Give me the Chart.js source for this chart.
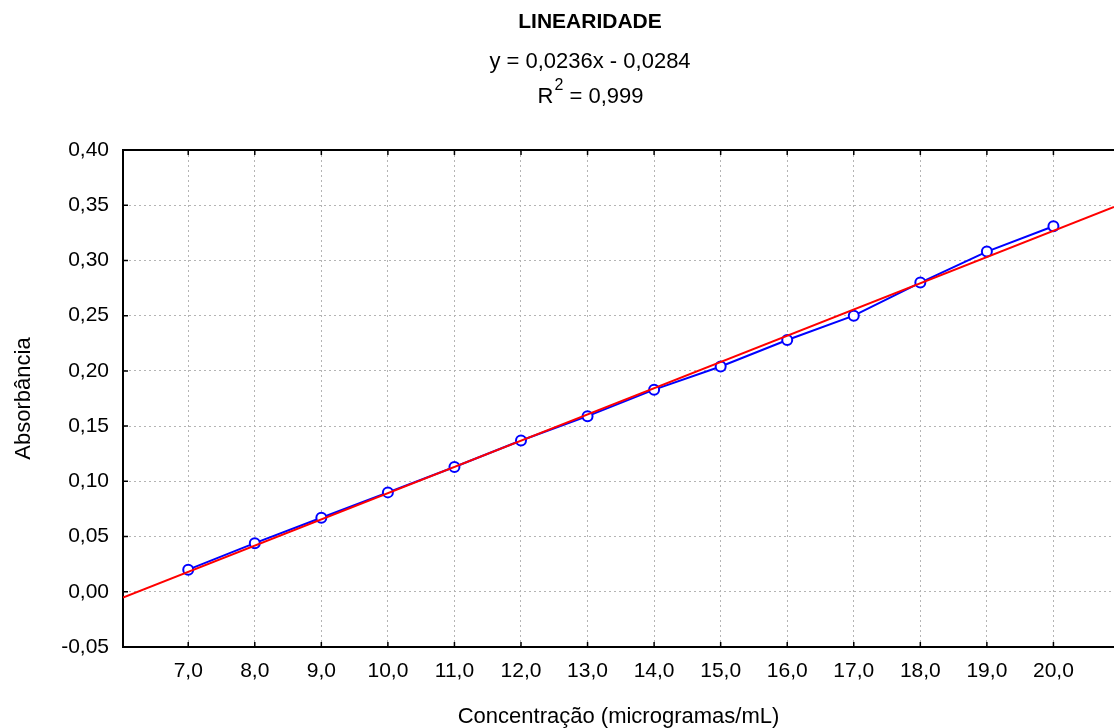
<!DOCTYPE html>
<html>
<head>
<meta charset="utf-8">
<script src="https://cdn.jsdelivr.net/npm/chart.js@4/dist/chart.umd.min.js"></script>
<style>
    html, body { margin: 0; padding: 0; background: #fff; overflow: hidden; }
    #wrap { width: 1114px; height: 728px; }
    canvas { display: block; }
</style>
</head>
<body>
<div id="wrap"><canvas id="grafico" width="1114" height="728"></canvas></div>
<script>
// dados
const concentracoes = [7, 8, 9, 10, 11, 12, 13, 14, 15, 16, 17, 18, 19, 20];
const absorbancias = [0.020, 0.044, 0.067, 0.090, 0.113, 0.137, 0.159, 0.183, 0.204, 0.228, 0.250, 0.280, 0.308, 0.331];
const ticksX = [7, 8, 9, 10, 11, 12, 13, 14, 15, 16, 17, 18, 19, 20];
const limitesX = [6.02, 20.91];
const limitesY = [-0.05, 0.40];
// reta de ajuste desenhada no grafico (inclinacao, intercepto)
const ajuste = [0.02376, -0.1483];

const titulo = "LINEARIDADE";
const equacao = "y = 0,0236x - 0,0284";
const r2Valor = " = 0,999";

const fonte = '"Liberation Sans", Arial, sans-serif';
const virgula = (v, d) => v.toFixed(d).replace(".", ",");

const retaAjuste = limitesX.map(x => ({ x: x, y: ajuste[0] * x + ajuste[1] }));
const pontos = concentracoes.map((x, i) => ({ x: x, y: absorbancias[i] }));

// titulo, eixo superior e marcas internas
const extras = {
    id: "extras",
    afterDraw(chart) {
        const ctx = chart.ctx;
        const area = chart.chartArea;
        const sx = chart.scales.x;
        const sy = chart.scales.y;
        const cx = 590;

        ctx.save();
        ctx.fillStyle = "#000";
        ctx.textAlign = "center";
        ctx.textBaseline = "alphabetic";
        ctx.font = "bold 21px " + fonte;
        ctx.fillText(titulo, cx, 28);
        ctx.font = "22px " + fonte;
        ctx.fillText(equacao, cx, 68);

        // R² com expoente
        ctx.textAlign = "left";
        ctx.font = "22px " + fonte;
        const wR = ctx.measureText("R").width;
        const wV = ctx.measureText(r2Valor).width;
        ctx.font = "16px " + fonte;
        const w2 = ctx.measureText("2").width;
        const x0 = cx - (wR + w2 + wV) / 2;
        ctx.font = "22px " + fonte;
        ctx.fillText("R", x0, 103);
        ctx.font = "16px " + fonte;
        ctx.fillText("2", x0 + wR + 1, 90);
        ctx.font = "22px " + fonte;
        ctx.fillText(r2Valor, x0 + wR + w2 + 1, 103);

        // linha superior
        ctx.strokeStyle = "#000";
        ctx.lineWidth = 2;
        ctx.beginPath();
        ctx.moveTo(area.left, area.top);
        ctx.lineTo(area.right, area.top);
        ctx.stroke();

        // marcas internas
        ctx.lineWidth = 1.5;
        ctx.beginPath();
        ticksX.forEach(v => {
            const px = sx.getPixelForValue(v);
            ctx.moveTo(px, area.bottom);
            ctx.lineTo(px, area.bottom - 5);
            ctx.moveTo(px, area.top);
            ctx.lineTo(px, area.top + 5);
        });
        sy.ticks.forEach(t => {
            const py = sy.getPixelForValue(t.value);
            ctx.moveTo(area.left, py);
            ctx.lineTo(area.left + 5, py);
        });
        ctx.stroke();
        ctx.restore();
    }
};

new Chart(document.getElementById("grafico"), {
    type: "scatter",
    data: {
        datasets: [
            {
                label: "Ajuste",
                data: retaAjuste,
                showLine: true,
                borderColor: "#ff0000",
                borderWidth: 2,
                pointRadius: 0,
                order: 0
            },
            {
                label: "Absorbância",
                data: pontos,
                showLine: true,
                borderColor: "#0000ff",
                borderWidth: 2,
                pointRadius: 5,
                pointBorderWidth: 2,
                pointBackgroundColor: "#ffffff",
                pointBorderColor: "#0000ff",
                order: 1
            }
        ]
    },
    options: {
        responsive: false,
        animation: false,
        layout: { autoPadding: false, padding: { top: 150, right: 0, left: 0, bottom: 0 } },
        plugins: {
            legend: { display: false },
            tooltip: { enabled: false }
        },
        scales: {
            x: {
                type: "linear",
                min: limitesX[0],
                max: limitesX[1],
                afterBuildTicks: scale => { scale.ticks = ticksX.map(v => ({ value: v })); },
                afterFit: scale => {
                    scale.height = 81;
                    scale.paddingLeft = 0;
                    scale.paddingRight = 0;
                },
                grid: { color: "#b4b4b4", lineWidth: 1, drawTicks: false },
                border: { display: true, color: "#000", width: 2, dash: [2, 3] },
                ticks: {
                    padding: 12,
                    color: "#000",
                    font: { family: fonte, size: 21 },
                    callback: v => virgula(v, 1)
                },
                title: {
                    display: true,
                    text: "Concentração (microgramas/mL)",
                    color: "#000",
                    font: { family: fonte, size: 22, lineHeight: 1 },
                    padding: 0
                }
            },
            y: {
                min: limitesY[0],
                max: limitesY[1],
                afterFit: scale => { scale.width = 123; },
                grid: { color: "#b4b4b4", lineWidth: 1, drawTicks: false },
                border: { display: true, color: "#000", width: 2, dash: [2, 3] },
                ticks: {
                    stepSize: 0.05,
                    padding: 14,
                    color: "#000",
                    font: { family: fonte, size: 21 },
                    callback: v => virgula(v, 2)
                },
                title: {
                    display: true,
                    text: "Absorbância",
                    color: "#000",
                    font: { family: fonte, size: 22, lineHeight: 1 },
                    padding: { top: 13, bottom: 0 }
                }
            }
        }
    },
    plugins: [extras]
});
</script>
</body>
</html>
